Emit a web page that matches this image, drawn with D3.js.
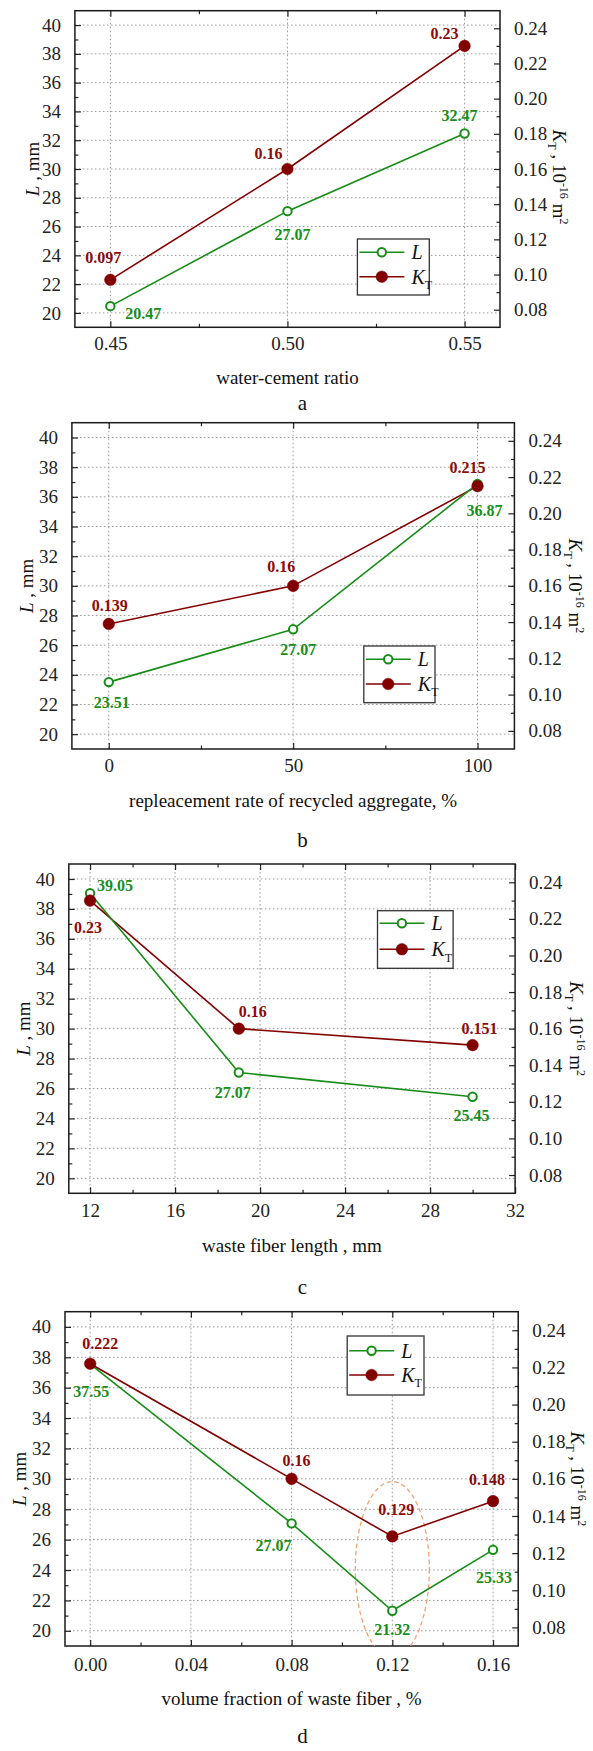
<!DOCTYPE html>
<html>
<head>
<meta charset="utf-8">
<script src="https://cdn.jsdelivr.net/npm/d3@7"></script>
<style>
  html, body { margin: 0; padding: 0; background: #fff; }
  svg { display: block; font-family: "Liberation Serif", "Times New Roman", serif; }
  svg text { font-family: "Liberation Serif", "Times New Roman", serif; }
</style>
</head>
<body>
<svg id="chart" width="593" height="1751"></svg>
<script>
// ---------- DATA ----------
// (a) water-cement ratio
const aX = [0.45, 0.50, 0.55];
const aL = [20.47, 27.07, 32.47];
const aK = [0.097, 0.16, 0.23];
const aXTicks = [0.45, 0.50, 0.55];
const aXMinor = [0.475, 0.525];
// (b) replacement rate of recycled aggregate
const bX = [0, 50, 100];
const bL = [23.51, 27.07, 36.87];
const bK = [0.139, 0.16, 0.215];
const bXTicks = [0, 50, 100];
const bXMinor = [25, 75];
// (c) waste fiber length
const cX = [12, 19, 30];
const cL = [39.05, 27.07, 25.45];
const cK = [0.23, 0.16, 0.151];
const cXTicks = [12, 16, 20, 24, 28, 32];
const cXMinor = [14, 18, 22, 26, 30];
// (d) volume fraction of waste fiber
const dX = [0.00, 0.08, 0.12, 0.16];
const dL = [37.55, 27.07, 21.32, 25.33];
const dK = [0.222, 0.16, 0.129, 0.148];
const dXTicks = [0.00, 0.04, 0.08, 0.12, 0.16];
const dXMinor = [0.02, 0.06, 0.10, 0.14];
// shared y axes
const leftTicks = [20, 22, 24, 26, 28, 30, 32, 34, 36, 38, 40];
const leftMinor = [21, 23, 25, 27, 29, 31, 33, 35, 37, 39];
const rightTicks = [0.08, 0.10, 0.12, 0.14, 0.16, 0.18, 0.20, 0.22, 0.24];
const rightMinor = [0.09, 0.11, 0.13, 0.15, 0.17, 0.19, 0.21, 0.23];
// text
const xTitles = ["water-cement ratio", "repleacement rate of recycled aggregate, %", "waste fiber length , mm", "volume fraction of waste fiber , %"];
const panelLetters = ["a", "b", "c", "d"];
// highlighted region in (d): centre x, centre L, half-width x, half-height L
const dHighlight = [0.12, 24.05, 0.0147, 5.77];

// ---------- LAYOUT / STYLE ----------
const FONT = "Liberation Serif";
const GREEN = "#168c16", RED = "#820000";
const GREEN_T = "#1a8e1a", RED_T = "#8b0a0a";

const panels = [
  { x: aX, L: aL, K: aK, ticks: aXTicks, minor: aXMinor, fmt: d3.format(".2f"),
    box: [74.9, 500, 10.7, 327.3], xDom: [0.44, 0.56], xLabY: 343, titleY: 377, letterY: 403,
    lTitleX: 32, rTitleX: 560, rTitleDY: 8,
    legend: [357.4, 429.3, 239, 295, 252.3, 276.7],
    offL: [[33, 7.4], [5, 23], [-5, -17.7]], offK: [[-7, -22], [-19, -16], [-20, -12.6]] },
  { x: bX, L: bL, K: bK, ticks: bXTicks, minor: bXMinor, fmt: d3.format("d"),
    box: [71.9, 514.4, 422.7, 749], xDom: [-10, 110], xLabY: 765, titleY: 800, letterY: 840,
    lTitleX: 26.5, rTitleX: 575.5, rTitleDY: 0,
    legend: [363.8, 435, 646, 702.7, 659.3, 684],
    offL: [[3, 20], [5, 20], [7, 27]], offK: [[1, -18], [-12, -19], [-10, -19]] },
  { x: cX, L: cL, K: cK, ticks: cXTicks, minor: cXMinor, fmt: d3.format("d"),
    box: [68.8, 515.1, 864, 1193.3], xDom: [11, 32], xLabY: 1210, titleY: 1245, letterY: 1287,
    lTitleX: 23.4, rTitleX: 576.5, rTitleDY: 0,
    legend: [377.5, 453.1, 910.7, 968.3, 923.3, 949.3],
    offL: [[25, -7.6], [-6, 20], [-1, 18.5]], offK: [[-2, 27], [14, -17.6], [7, -16.5]] },
  { x: dX, L: dL, K: dK, ticks: dXTicks, minor: dXMinor, fmt: d3.format(".2f"),
    box: [65, 518.2, 1311.7, 1646], xDom: [-0.01, 0.17], xLabY: 1664, titleY: 1698.5, letterY: 1736,
    lTitleX: 19, rTitleX: 577.5, rTitleDY: 0,
    legend: [347.2, 424, 1336, 1395, 1350.7, 1375],
    offL: [[1, 27], [-18, 22], [0, 19], [1, 28]], offK: [[10, -20], [5, -18], [4, -27], [-6, -22]],
    highlight: dHighlight }
];

const svg = d3.select("#chart");
const defs = svg.append("defs");

panels.forEach((p, i) => {
  const [x0, x1, y0, y1] = p.box;
  const xs = d3.scaleLinear().domain(p.xDom).range([x0, x1]);
  const yL = d3.scaleLinear().domain([19, 41]).range([y1, y0]);
  const yK = d3.scaleLinear().domain([0.07, 0.25]).range([y1, y0]);
  const g = svg.append("g");

  // grid
  const grid = g.append("g").attr("stroke", "#9a9a9a").attr("stroke-width", 1)
    .attr("stroke-dasharray", "1.6,2.4").attr("fill", "none");
  leftTicks.forEach(t => grid.append("line").attr("x1", x0).attr("x2", x1)
    .attr("y1", yL(t)).attr("y2", yL(t)));
  p.ticks.forEach(t => { const xv = xs(t); if (xv > x0 + 1 && xv < x1 - 1)
    grid.append("line").attr("x1", xv).attr("x2", xv).attr("y1", y0).attr("y2", y1); });

  // axes via d3 (inward ticks)
  const tickStyle = sel => { sel.select(".domain").remove();
    sel.attr("font-family", FONT).attr("font-size", 19);
    sel.selectAll("line").attr("stroke", "#222").attr("stroke-width", 1.2);
    sel.selectAll("text").style("font-family", FONT).attr("font-size", 19).attr("fill", "#222"); };

  // bottom
  g.append("g").attr("transform", `translate(0,${y1})`)
    .call(d3.axisBottom(xs).tickValues(p.ticks).tickFormat(p.fmt).tickSizeInner(-6).tickSizeOuter(0).tickPadding(0))
    .call(tickStyle)
    .call(s => s.selectAll("text").attr("y", p.xLabY - y1).attr("dy", "0.35em"));
  g.append("g").attr("transform", `translate(0,${y1})`)
    .call(d3.axisBottom(xs).tickValues(p.minor).tickFormat("").tickSizeInner(-3.5).tickSizeOuter(0))
    .call(tickStyle);
  // top
  g.append("g").attr("transform", `translate(0,${y0})`)
    .call(d3.axisTop(xs).tickValues(p.ticks).tickFormat("").tickSizeInner(-6).tickSizeOuter(0))
    .call(tickStyle);
  g.append("g").attr("transform", `translate(0,${y0})`)
    .call(d3.axisTop(xs).tickValues(p.minor).tickFormat("").tickSizeInner(-3.5).tickSizeOuter(0))
    .call(tickStyle);
  // left
  g.append("g").attr("transform", `translate(${x0},0)`)
    .call(d3.axisLeft(yL).tickValues(leftTicks).tickFormat(d3.format("d")).tickSizeInner(-6).tickSizeOuter(0).tickPadding(14))
    .call(tickStyle);
  g.append("g").attr("transform", `translate(${x0},0)`)
    .call(d3.axisLeft(yL).tickValues(leftMinor).tickFormat("").tickSizeInner(-3.5).tickSizeOuter(0))
    .call(tickStyle);
  // right
  g.append("g").attr("transform", `translate(${x1},0)`)
    .call(d3.axisRight(yK).tickValues(rightTicks).tickFormat(d3.format(".2f")).tickSizeInner(-6).tickSizeOuter(0).tickPadding(14))
    .call(tickStyle);
  g.append("g").attr("transform", `translate(${x1},0)`)
    .call(d3.axisRight(yK).tickValues(rightMinor).tickFormat("").tickSizeInner(-3.5).tickSizeOuter(0))
    .call(tickStyle);

  // frame
  g.append("rect").attr("x", x0).attr("y", y0).attr("width", x1 - x0).attr("height", y1 - y0)
    .attr("fill", "none").attr("stroke", "#1a1a1a").attr("stroke-width", 1.5);

  // highlight ellipse
  if (p.highlight) {
    const [hx, hy, hrx, hry] = p.highlight;
    const cid = "clip" + i;
    defs.append("clipPath").attr("id", cid).append("rect")
      .attr("x", x0).attr("y", y0).attr("width", x1 - x0).attr("height", y1 - y0);
    g.append("ellipse").attr("clip-path", `url(#${cid})`)
      .attr("cx", xs(hx)).attr("cy", yL(hy))
      .attr("rx", xs(hx + hrx) - xs(hx)).attr("ry", yL(hy - hry) - yL(hy))
      .attr("fill", "none").attr("stroke", "#f5a273").attr("stroke-width", 1.3)
      .attr("stroke-dasharray", "4.5,3");
  }

  // series lines
  const idx = d3.range(p.x.length);
  const lineL = d3.line().x(j => xs(p.x[j])).y(j => yL(p.L[j]));
  const lineK = d3.line().x(j => xs(p.x[j])).y(j => yK(p.K[j]));
  g.append("path").attr("d", lineK(idx)).attr("fill", "none").attr("stroke", RED).attr("stroke-width", 1.6);
  g.append("path").attr("d", lineL(idx)).attr("fill", "none").attr("stroke", GREEN).attr("stroke-width", 1.6);
  // markers
  g.selectAll(null).data(idx).enter().append("circle")
    .attr("cx", j => xs(p.x[j])).attr("cy", j => yL(p.L[j])).attr("r", 4.2)
    .attr("fill", "#fff").attr("stroke", GREEN).attr("stroke-width", 2);
  g.selectAll(null).data(idx).enter().append("circle")
    .attr("cx", j => xs(p.x[j])).attr("cy", j => yK(p.K[j])).attr("r", 5.8)
    .attr("fill", RED).attr("stroke", RED).attr("stroke-width", 0.5);

  // data labels
  const lab = g.append("g").attr("font-weight", "bold").attr("font-size", 16)
    .attr("text-anchor", "middle").attr("dominant-baseline", "central");
  idx.forEach(j => {
    lab.append("text").attr("x", xs(p.x[j]) + p.offL[j][0]).attr("y", yL(p.L[j]) + p.offL[j][1])
      .attr("fill", GREEN_T).text(d3.format(".2f")(p.L[j]));
    lab.append("text").attr("x", xs(p.x[j]) + p.offK[j][0]).attr("y", yK(p.K[j]) + p.offK[j][1])
      .attr("fill", RED_T).text(String(p.K[j]));
  });

  // legend
  const [lx0, lx1, ly0, ly1, r1, r2] = p.legend;
  const lg = g.append("g");
  lg.append("rect").attr("x", lx0).attr("y", ly0).attr("width", lx1 - lx0).attr("height", ly1 - ly0)
    .attr("fill", "#fff").attr("stroke", "#333").attr("stroke-width", 1.3);
  [[r1, GREEN, true], [r2, RED, false]].forEach(([ry, col, open]) => {
    lg.append("line").attr("x1", lx0 + 2).attr("x2", lx0 + 47).attr("y1", ry).attr("y2", ry)
      .attr("stroke", col).attr("stroke-width", 1.6);
    lg.append("circle").attr("cx", lx0 + 24.4).attr("cy", ry).attr("r", open ? 4.2 : 5.8)
      .attr("fill", open ? "#fff" : col).attr("stroke", col).attr("stroke-width", open ? 2 : 0.5);
  });
  lg.append("text").attr("x", lx0 + 54).attr("y", r1).attr("dy", "0.35em")
    .attr("font-size", 20).attr("font-style", "italic").attr("fill", "#111").text("L");
  const kt = lg.append("text").attr("x", lx0 + 54).attr("y", r2).attr("dy", "0.35em")
    .attr("font-size", 20).attr("fill", "#111");
  kt.append("tspan").attr("font-style", "italic").text("K");
  kt.append("tspan").attr("font-size", 12).attr("dy", "0.45em").text("T");

  // axis titles
  const cy = (y0 + y1) / 2;
  const lt = g.append("text").attr("transform", `translate(${p.lTitleX},${cy}) rotate(-90)`)
    .attr("text-anchor", "middle").attr("dy", "0.35em").attr("font-size", 19).attr("fill", "#111");
  lt.append("tspan").attr("font-style", "italic").text("L");
  lt.append("tspan").text(" , mm");

  const rt = g.append("text").attr("transform", `translate(${p.rTitleX},${cy + p.rTitleDY}) rotate(90)`)
    .attr("text-anchor", "middle").attr("dy", "0.35em").attr("font-size", 19).attr("fill", "#111");
  rt.append("tspan").attr("font-style", "italic").text("K");
  rt.append("tspan").attr("font-size", 12).attr("dy", 5).text("T");
  rt.append("tspan").attr("dy", -5).text(" , 10");
  rt.append("tspan").attr("font-size", 12).attr("dy", -7).text("-16");
  rt.append("tspan").attr("dy", 7).text(" m");
  rt.append("tspan").attr("font-size", 12).attr("dy", -7).text("2");

  g.append("text").attr("x", (x0 + x1) / 2).attr("y", p.titleY).attr("dy", "0.35em")
    .attr("text-anchor", "middle").attr("font-size", 19).attr("fill", "#111").text(xTitles[i]);
  g.append("text").attr("x", 302.5).attr("y", p.letterY).attr("dy", "0.35em")
    .attr("text-anchor", "middle").attr("font-size", 21).attr("fill", "#111").text(panelLetters[i]);
});
</script>
</body>
</html>
